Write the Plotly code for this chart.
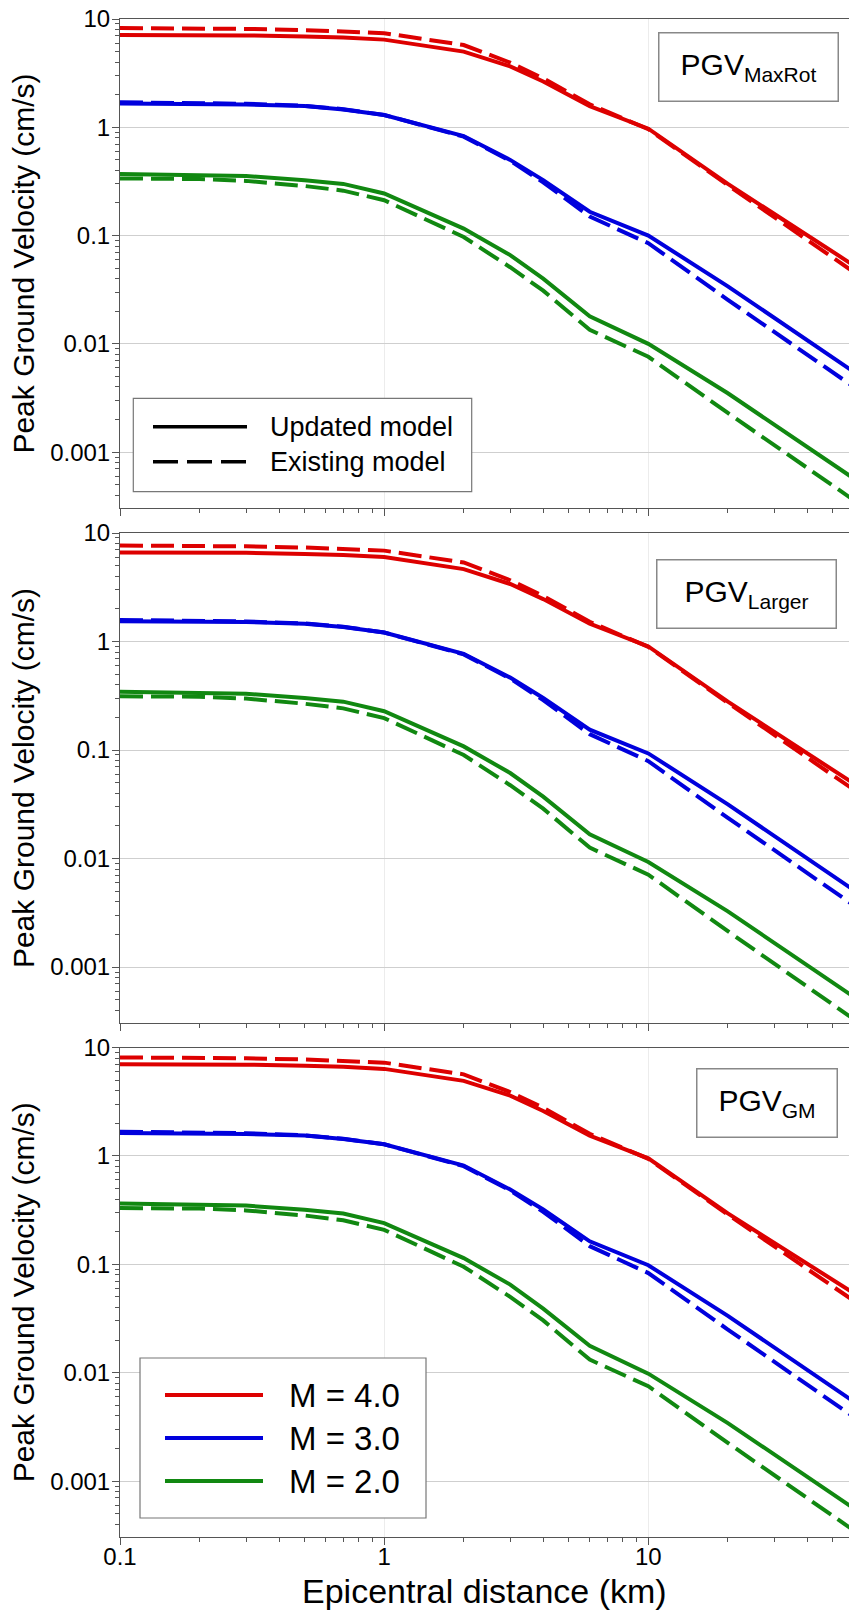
import plotly.graph_objects as go
import math

# ---------------- data ----------------
distance_km = [0.1, 0.2, 0.3, 0.5, 0.7, 1, 2, 3, 4, 6, 10, 20, 60]

# Panel 1: PGV_MaxRot
maxrot_m4_updated = [7.1, 7.1, 7.05, 6.9, 6.75, 6.45, 5.0, 3.65, 2.65, 1.57, 0.97, 0.30, 0.053]
maxrot_m4_existing = [8.25, 8.2, 8.1, 7.9, 7.7, 7.4, 5.75, 3.95, 2.83, 1.63, 0.96, 0.292, 0.046]
maxrot_m3_updated = [1.66, 1.65, 1.62, 1.57, 1.46, 1.30, 0.83, 0.50, 0.325, 0.166, 0.100, 0.034, 0.0055]
maxrot_m3_existing = [1.70, 1.68, 1.65, 1.58, 1.47, 1.30, 0.82, 0.49, 0.31, 0.150, 0.085, 0.0255, 0.0040]
maxrot_m2_updated = [0.37, 0.365, 0.355, 0.325, 0.30, 0.245, 0.116, 0.066, 0.040, 0.018, 0.010, 0.0035, 0.00057]
maxrot_m2_existing = [0.337, 0.333, 0.32, 0.287, 0.26, 0.212, 0.097, 0.051, 0.031, 0.0135, 0.0076, 0.0023, 0.00036]

# Panel 2: PGV_Larger
larger_m4_updated = [6.6, 6.6, 6.56, 6.42, 6.28, 6.0, 4.65, 3.39, 2.46, 1.46, 0.90, 0.279, 0.049]
larger_m4_existing = [7.67, 7.63, 7.53, 7.35, 7.16, 6.88, 5.35, 3.67, 2.63, 1.52, 0.893, 0.272, 0.043]
larger_m3_updated = [1.54, 1.53, 1.51, 1.46, 1.36, 1.21, 0.77, 0.465, 0.302, 0.154, 0.093, 0.0316, 0.0051]
larger_m3_existing = [1.58, 1.56, 1.53, 1.47, 1.37, 1.21, 0.76, 0.456, 0.288, 0.140, 0.079, 0.0237, 0.0037]
larger_m2_updated = [0.344, 0.339, 0.33, 0.302, 0.279, 0.228, 0.108, 0.0614, 0.0372, 0.0167, 0.0093, 0.00326, 0.00053]
larger_m2_existing = [0.313, 0.31, 0.298, 0.267, 0.242, 0.197, 0.090, 0.0474, 0.0288, 0.0126, 0.0071, 0.00214, 0.00033]

# Panel 3: PGV_GM
gm_m4_updated = [7.0, 7.0, 6.95, 6.8, 6.65, 6.35, 4.92, 3.6, 2.6, 1.54, 0.95, 0.295, 0.054]
gm_m4_existing = [8.1, 8.05, 7.95, 7.75, 7.55, 7.25, 5.65, 3.88, 2.78, 1.6, 0.94, 0.287, 0.046]
gm_m3_updated = [1.63, 1.62, 1.59, 1.54, 1.43, 1.28, 0.815, 0.49, 0.32, 0.163, 0.098, 0.0334, 0.0054]
gm_m3_existing = [1.67, 1.65, 1.62, 1.55, 1.44, 1.28, 0.805, 0.48, 0.305, 0.147, 0.083, 0.025, 0.0039]
gm_m2_updated = [0.363, 0.358, 0.348, 0.319, 0.294, 0.24, 0.114, 0.065, 0.039, 0.0177, 0.0098, 0.00343, 0.00056]
gm_m2_existing = [0.33, 0.327, 0.314, 0.282, 0.255, 0.208, 0.095, 0.05, 0.0304, 0.0132, 0.0075, 0.00225, 0.00035]

panel_labels = ["PGV<sub>MaxRot</sub>", "PGV<sub>Larger</sub>", "PGV<sub>GM</sub>"]
magnitude_labels = ["M = 4.0", "M = 3.0", "M = 2.0"]
model_labels = ["Updated model", "Existing model"]
x_title = "Epicentral distance (km)"
y_title = "Peak Ground Velocity (cm/s)"
x_tickvals = [0.1, 1, 10]
x_ticktext = ["0.1", "1", "10"]
y_tickvals = [0.001, 0.01, 0.1, 1, 10]
y_ticktext = ["0.001", "0.01", "0.1", "1", "10"]

panels = [
    [maxrot_m4_updated, maxrot_m4_existing, maxrot_m3_updated, maxrot_m3_existing, maxrot_m2_updated, maxrot_m2_existing],
    [larger_m4_updated, larger_m4_existing, larger_m3_updated, larger_m3_existing, larger_m2_updated, larger_m2_existing],
    [gm_m4_updated, gm_m4_existing, gm_m3_updated, gm_m3_existing, gm_m2_updated, gm_m2_existing],
]

# ---------------- style / layout ----------------
W, H = 849, 1612
ML, MR, MT, MB = 120, 0, 19, 75
PW = W - ML - MR
PH = H - MT - MB
FONT = "Liberation Sans, Arial, sans-serif"
colors = ["#DD0000", "#0000DD", "#118811"]
DASH = "23px,8px"
LW = 4

def px_x(px):
    return (px - ML) / PW

def px_y(py):
    return (H - MB - py) / PH

panel_px = [(19, 508), (533, 1023), (1047.5, 1537)]
domains = [[px_y(b), px_y(t)] for (t, b) in panel_px]

fig = go.Figure()

for i, series in enumerate(panels):
    xa = "x" if i == 0 else f"x{i+1}"
    ya = "y" if i == 0 else f"y{i+1}"
    for k in range(3):
        fig.add_trace(go.Scatter(
            x=distance_km, y=series[2 * k], mode="lines", xaxis=xa, yaxis=ya,
            line=dict(color=colors[k], width=LW), showlegend=False, hoverinfo="skip"))
        fig.add_trace(go.Scatter(
            x=distance_km, y=series[2 * k + 1], mode="lines", xaxis=xa, yaxis=ya,
            line=dict(color=colors[k], width=LW, dash=DASH), showlegend=False, hoverinfo="skip"))

x_minor = [m * 10 ** e for e in range(-1, 2) for m in range(2, 10)]
y_minor = [m * 10 ** e for e in range(-4, 1) for m in range(2, 10)]

axis_common = dict(
    type="log", linecolor="#555555", linewidth=1, ticks="outside", tickcolor="#555555",
    ticklen=7, tickfont=dict(family=FONT, size=24, color="black"), zeroline=False,
)

layout = dict(
    width=W, height=H, margin=dict(l=ML, r=MR, t=MT, b=MB),
    paper_bgcolor="white", plot_bgcolor="white", showlegend=False,
    font=dict(family=FONT, color="black"),
)

xr = [-1, math.log10(57.5)]
yr = [math.log10(0.000305), 1]
for i in range(3):
    xk = "xaxis" if i == 0 else f"xaxis{i+1}"
    yk = "yaxis" if i == 0 else f"yaxis{i+1}"
    ya = "y" if i == 0 else f"y{i+1}"
    xa = "x" if i == 0 else f"x{i+1}"
    xd = dict(axis_common)
    xd.update(domain=[0, 1], anchor=ya, range=xr, tickvals=x_tickvals, ticktext=x_ticktext,
              showticklabels=(i == 2), mirror=True, showgrid=True, gridcolor="#ececec",
              ticklabelstandoff=-9,
              minor=dict(tickvals=x_minor, ticks="outside", ticklen=4, tickcolor="#555555", showgrid=False))
    yd = dict(axis_common)
    yd.update(domain=domains[i], anchor=xa, range=yr, tickvals=y_tickvals, ticktext=y_ticktext,
              showgrid=True, gridcolor="#cfcfcf", ticklabelstandoff=-3,
              title=dict(text=y_title, font=dict(family=FONT, size=30, color="black"), standoff=6),
              minor=dict(tickvals=y_minor, ticks="outside", ticklen=4, tickcolor="#555555", showgrid=False))
    layout[xk] = xd
    layout[yk] = yd

fig.update_layout(**layout)

# X-axis title (placed below the bottom panel)
fig.add_annotation(x=0.5, y=px_y(1591), xref="paper", yref="paper", xanchor="center", yanchor="middle",
                   text=x_title, showarrow=False, font=dict(family=FONT, size=34, color="black"))

# Panel label boxes
label_boxes = [(748, 67.3, 178, 67), (746.5, 594, 178, 67), (767, 1103, 139, 67)]
for i, (cx, cy, bw, bh) in enumerate(label_boxes):
    fig.add_annotation(
        x=px_x(cx), y=px_y(cy), xref="paper", yref="paper", xanchor="center", yanchor="middle",
        text=panel_labels[i], showarrow=False, font=dict(family=FONT, size=30, color="black"),
        bordercolor="#888888", borderwidth=1.5, borderpad=0, bgcolor="white",
        width=bw, height=bh, align="center", valign="middle")

# Legend 1: line styles (panel 1)
fig.add_shape(type="rect", xref="paper", yref="paper", x0=px_x(133.3), x1=px_x(471.7),
              y0=px_y(491.7), y1=px_y(398.3), line=dict(color="#777777", width=1.2), fillcolor="white", layer="above")
for j, (yy, dash) in enumerate([(426.7, "solid"), (461.7, "25px,9px")]):
    fig.add_shape(type="line", xref="paper", yref="paper", x0=px_x(153), x1=px_x(247),
                  y0=px_y(yy), y1=px_y(yy), line=dict(color="black", width=3.4, dash=dash), layer="above")
    fig.add_annotation(x=px_x(268), y=px_y(yy), xref="paper", yref="paper", xanchor="left", yanchor="middle",
                       text=model_labels[j], showarrow=False, font=dict(family=FONT, size=27, color="black"))

# Legend 2: magnitudes (panel 3)
fig.add_shape(type="rect", xref="paper", yref="paper", x0=px_x(140), x1=px_x(426),
              y0=px_y(1518), y1=px_y(1358), line=dict(color="#777777", width=1.2), fillcolor="white", layer="above")
for j, yy in enumerate([1395, 1438, 1481]):
    fig.add_shape(type="line", xref="paper", yref="paper", x0=px_x(165), x1=px_x(263),
                  y0=px_y(yy), y1=px_y(yy), line=dict(color=colors[j], width=4), layer="above")
    fig.add_annotation(x=px_x(287), y=px_y(yy), xref="paper", yref="paper", xanchor="left", yanchor="middle",
                       text=magnitude_labels[j], showarrow=False, font=dict(family=FONT, size=33, color="black"))

fig.write_html("out.html")
